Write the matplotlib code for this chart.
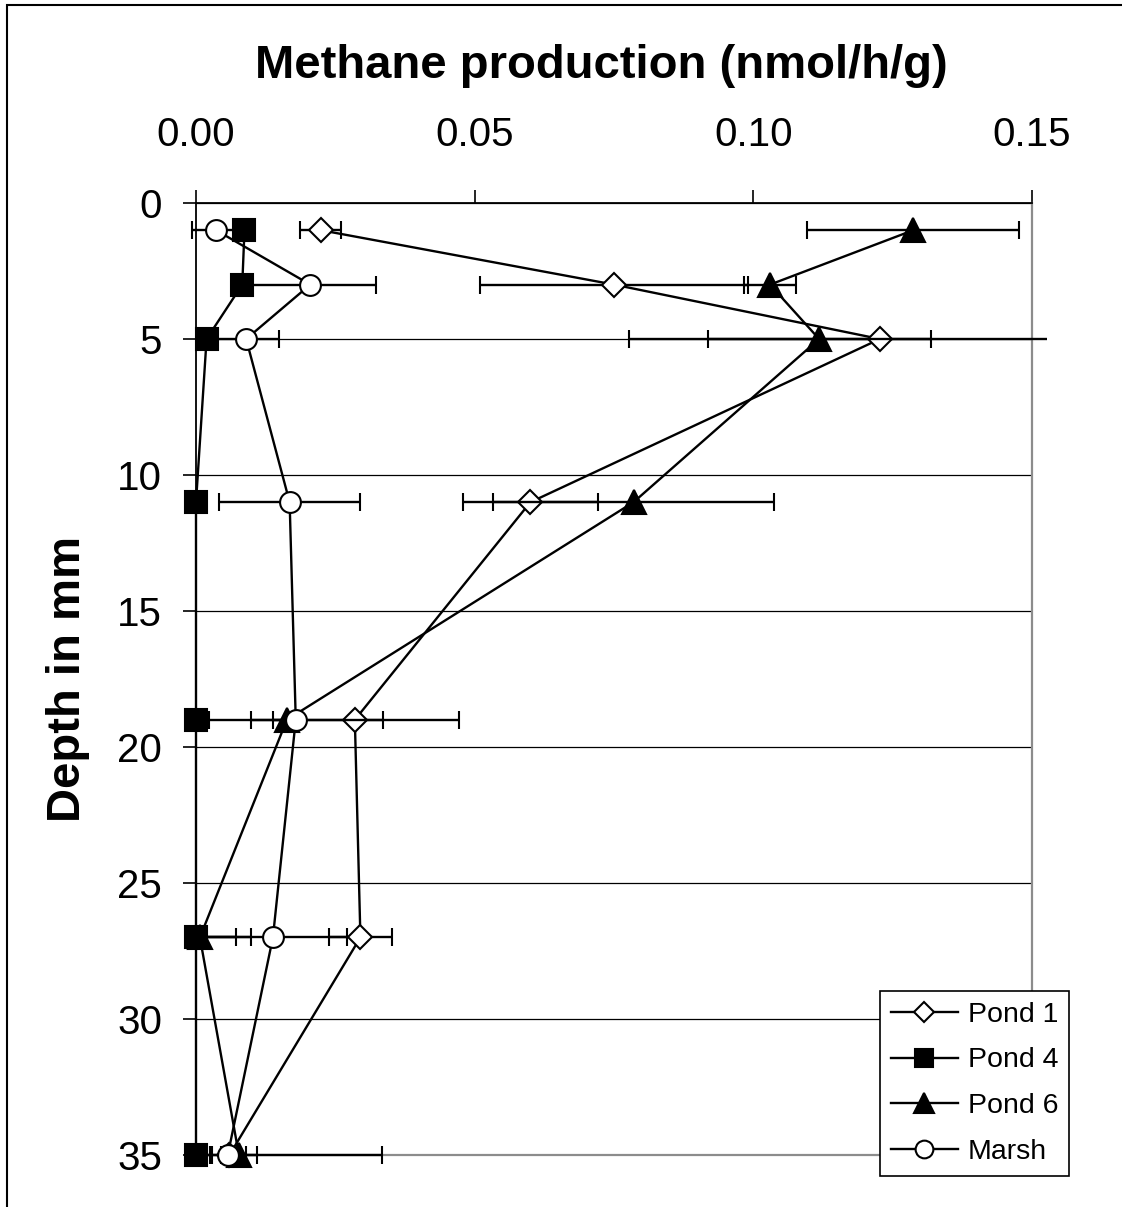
import matplotlib
matplotlib.use('Agg')
import matplotlib.pyplot as plt
from matplotlib.transforms import Bbox, TransformedBbox
from matplotlib.patches import Rectangle

plt.rcParams['font.family'] = ['Liberation Sans', 'DejaVu Sans']

# Sediment depth of each sample (mm)
depth = [1, 3, 5, 11, 19, 27, 35]

# Methane production (nmol/h/g) and error for each site
pond1 = [0.0224, 0.0750, 0.1227, 0.0600, 0.0285, 0.0295, 0.0060]
pond1_err = [0.0037, 0.0240, 0.0450, 0.0121, 0.0186, 0.0057, 0.0273]
pond4 = [0.0087, 0.0083, 0.0019, 0.0, 0.0, 0.0, 0.0]
pond4_err = [0.0, 0.0, 0.0, 0.0, 0.0, 0.0072, 0.0028]
pond6 = [0.1287, 0.1030, 0.1118, 0.0785, 0.0163, 0.0007, 0.0077]
pond6_err = [0.0190, 0.0046, 0.0200, 0.0252, 0.0024, 0.0091, 0.0033]
marsh = [0.0036, 0.0205, 0.0090, 0.0168, 0.0179, 0.0138, 0.0057]
marsh_err = [0.0043, 0.0118, 0.0059, 0.0126, 0.0156, 0.0133, 0.0032]

labels = ["Pond 1", "Pond 4", "Pond 6", "Marsh"]
x_ticks = [0.00, 0.05, 0.10, 0.15]
x_tick_labels = ["0.00", "0.05", "0.10", "0.15"]
y_ticks = [0, 5, 10, 15, 20, 25, 30, 35]

W, H = 1122, 1207
fig = plt.figure(figsize=(W / 100, H / 100), dpi=100)
fig.patch.set_facecolor('white')

ax_l, ax_r, ax_t, ax_b = 196, 1032, 203, 1155
ax = fig.add_axes([ax_l / W, 1 - ax_b / H, (ax_r - ax_l) / W, (ax_b - ax_t) / H])

ax.set_xlim(0, 0.15)
ax.set_ylim(35, 0)

# Axes lines: value axis on top, depth axis on the left, plot-area border grey
ax.xaxis.tick_top()
ax.set_xticks(x_ticks)
ax.set_xticklabels(x_tick_labels)
ax.set_yticks(y_ticks)
ax.tick_params(axis='x', direction='out', length=9.5, width=1.2, color='black',
               labelsize=29, pad=26)
ax.tick_params(axis='y', direction='out', length=9.5, width=1.2, color='black',
               labelsize=29, pad=15)
for side in ('top', 'left'):
    ax.spines[side].set_color('black')
    ax.spines[side].set_linewidth(1.3)
for side in ('right', 'bottom'):
    ax.spines[side].set_color('#8c8c8c')
    ax.spines[side].set_linewidth(1.6)

ax.yaxis.grid(True, color='black', linewidth=0.9)
ax.set_axisbelow(True)

# Error bars may run a little past the plot area, as in the spreadsheet chart
clip = TransformedBbox(Bbox([[-8 / 836, -0.05], [1 + 15 / 836, 1.05]]), ax.transAxes)

styles = [
    (pond1, pond1_err, 'D', 'white', 11.8),
    (pond4, pond4_err, 's', 'black', 15.5),
    (pond6, pond6_err, '^', 'black', 17.0),
    (marsh, marsh_err, 'o', 'white', 15.0),
]

handles = []
for i, ((vals, errs, mk, fc, ms), lab) in enumerate(zip(styles, labels)):
    cont = ax.errorbar(vals, depth, xerr=errs, fmt='-', marker=mk, ms=ms,
                       mfc=fc, mec='black', mew=1.5, color='black', lw=1.7,
                       ecolor='black', elinewidth=1.7, capsize=6.5, capthick=1.7,
                       zorder=3 + i, label=lab)
    data_line, caplines, barcols = cont.lines
    data_line.set_clip_on(False)
    for c in caplines:
        c.set_clip_box(clip)
    for b in barcols:
        b.set_clip_box(clip)
    handles.append(data_line)

leg = ax.legend(handles, labels, loc='upper left',
                bbox_to_anchor=(880 / W, 1 - 991 / H), bbox_transform=fig.transFigure,
                borderaxespad=0, fontsize=20.5, frameon=True, fancybox=False,
                framealpha=1, edgecolor='black', handlelength=2.35,
                handletextpad=0.35, borderpad=0.38, labelspacing=0.69,
                markerscale=0.85)
leg.get_frame().set_linewidth(1.2)
leg.set_zorder(10)

fig.text(601 / W, 1 - 66 / H, "Methane production (nmol/h/g)", ha='center',
         va='center', fontsize=34, fontweight='bold')
fig.text(68 / W, 1 - 679 / H, "Depth in mm", ha='center', va='center',
         rotation=90, fontsize=34, fontweight='bold')

# Outer chart frame
fig.patches.append(Rectangle((7 / W, -0.1), 1.2, 1 - 5 / H + 0.1,
                             transform=fig.transFigure, fill=False,
                             edgecolor='black', linewidth=1.5))

fig.savefig('out.png', dpi=100)
